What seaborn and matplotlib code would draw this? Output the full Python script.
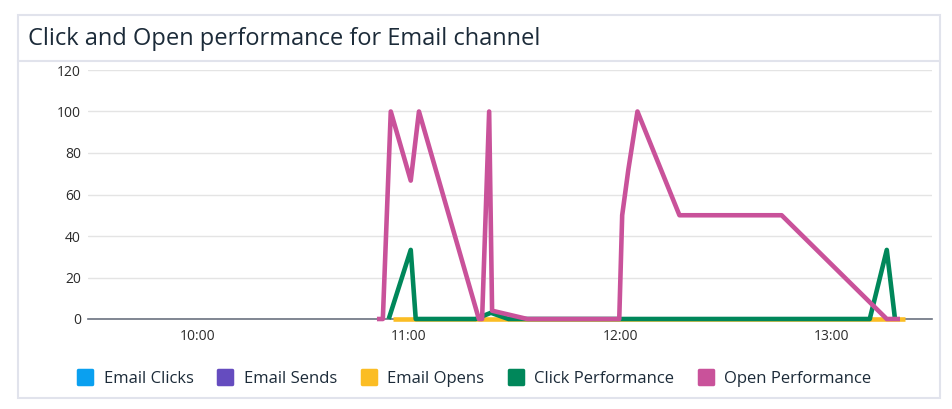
import pandas as pd
import matplotlib
matplotlib.use("Agg")
import matplotlib.pyplot as plt
import matplotlib.dates as mdates
from matplotlib.lines import Line2D
from matplotlib.markers import MarkerStyle
from matplotlib.patches import Rectangle
import seaborn as sns

# values (percent)
day = "2024-01-01 "
open_times = ["10:51:00", "10:52:40", "10:54:55", "11:00:35", "11:02:55", "11:19:55",
              "11:20:50", "11:22:50", "11:23:40", "11:33:40", "11:59:45", "12:00:35",
              "12:02:20", "12:04:55", "12:16:50", "12:45:50", "13:15:40", "13:19:25"]
open_perf = [0, 0, 100, 66.7, 100, 0, 0, 100, 4, 0, 0, 50, 72, 100, 50, 50, 0, 0]

click_times = ["10:54:20", "11:00:35", "11:02:00", "11:19:00", "11:23:20", "11:28:20",
               "13:10:50", "13:15:40", "13:18:00"]
click_perf = [0, 33.3, 0, 0, 3, 0, 0, 33.3, 0]

opens_times = ["10:55:40", "11:01:25", "11:22:45", "11:23:10", "13:11:40", "13:20:50"]
email_opens = [0, 0, 0, 0, 0, 0]

series = ["Email Clicks", "Email Sends", "Email Opens", "Click Performance", "Open Performance"]
colors = ["#0aa0f0", "#654cbf", "#fbbd24", "#00875a", "#c9529a"]
palette = dict(zip(series, colors))

frames = []
for name, t, v in [("Email Opens", opens_times, email_opens),
                   ("Click Performance", click_times, click_perf),
                   ("Open Performance", open_times, open_perf)]:
    frames.append(pd.DataFrame({"time": pd.to_datetime([day + s for s in t]),
                                "value": v, "series": name}))
df = pd.concat(frames, ignore_index=True)

sns.set_style("white")
plt.rcParams["font.family"] = ["Open Sans", "DejaVu Sans"]
text_color = "#1c2b39"

W, H = 952, 409
fig = plt.figure(figsize=(W / 100, H / 100), dpi=100)

# card frame
border = "#e1e3ec"
fig.patches.append(Rectangle((18 / W, 1 - 398 / H), (940 - 18) / W, (398 - 15) / H,
                             transform=fig.transFigure, fill=False, ec=border, lw=1.5))
fig.add_artist(Line2D([18 / W, 940 / W], [1 - 61 / H, 1 - 61 / H],
                      transform=fig.transFigure, color=border, lw=1.5))
fig.text(28 / W, 1 - 39 / H, "Click and Open performance for Email channel",
         fontsize=17, color=text_color, va="center", ha="left")

ax = fig.add_axes([88 / W, 1 - 319 / H, (932 - 88) / W, (319 - 70) / H])
sns.lineplot(data=df, x="time", y="value", hue="series",
             hue_order=["Email Opens", "Click Performance", "Open Performance"],
             palette=palette, lw=3.3, legend=False, sort=False, ax=ax,
             solid_joinstyle="round", solid_capstyle="butt")
for ln in ax.lines:
    ln.set_clip_on(False)
    ln.set_zorder(3)

ax.set_xlim(pd.Timestamp(day + "09:29:00"), pd.Timestamp(day + "13:28:30"))
ax.set_ylim(0, 120)
ax.set_yticks(range(0, 121, 20))
ax.xaxis.set_major_locator(mdates.HourLocator())
ax.xaxis.set_major_formatter(mdates.DateFormatter("%H:%M"))
ax.set_xlabel("")
ax.set_ylabel("")
ax.yaxis.grid(True, color="#e4e4e4", lw=1)
ax.xaxis.grid(False)
for s in ["top", "right", "left"]:
    ax.spines[s].set_visible(False)
ax.spines["bottom"].set_color("#6b7280")
ax.spines["bottom"].set_linewidth(1.2)
ax.spines["bottom"].set_zorder(2)
ax.tick_params(axis="y", length=0, pad=5, labelsize=10, labelcolor="#2b2b2b")
ax.tick_params(axis="x", length=4.5, width=1, color="#6b7280", pad=3,
               labelsize=10, labelcolor="#2b2b2b")

handles = [Line2D([], [], ls="", marker=MarkerStyle("s", joinstyle="round"),
                  markersize=10, markeredgewidth=2.5, color=c, label=n)
           for n, c in zip(series, colors)]
leg = fig.legend(handles=handles, loc="center", bbox_to_anchor=(474 / W, 1 - 379 / H),
                 ncol=5, frameon=False, fontsize=12, handlelength=1.0,
                 handletextpad=0.6, columnspacing=1.4)
for t in leg.get_texts():
    t.set_color(text_color)

fig.savefig("out.png", dpi=100)
